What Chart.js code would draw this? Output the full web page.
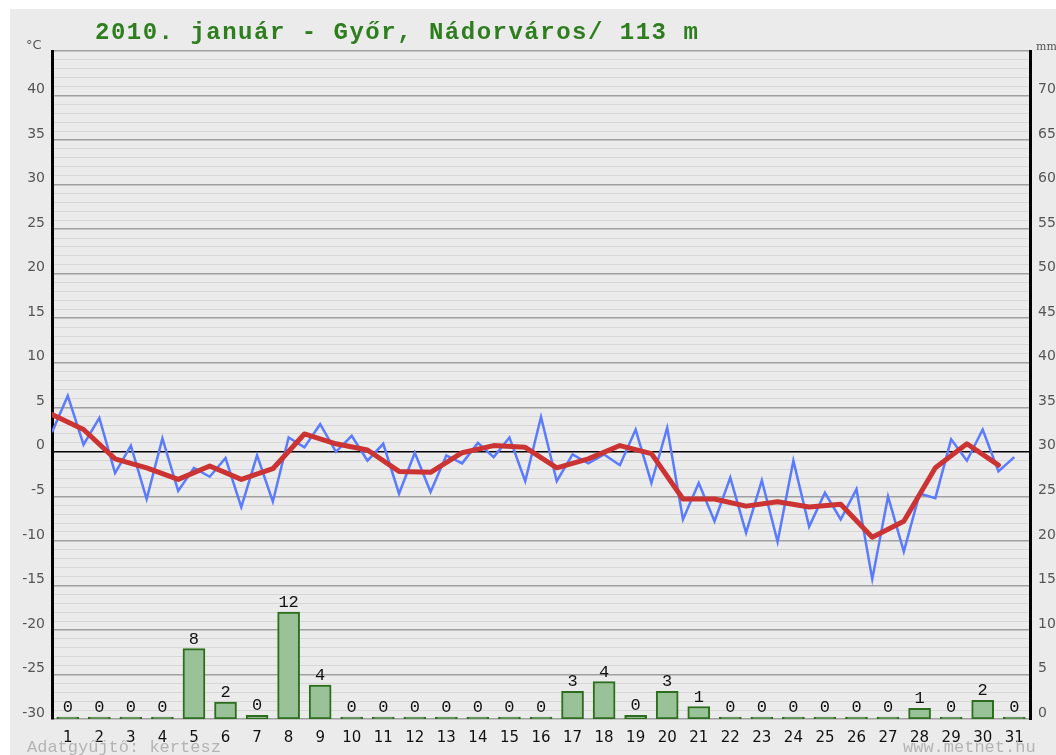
<!DOCTYPE html>
<html>
<head>
<meta charset="utf-8">
<title>2010. január - Győr, Nádorváros</title>
<script src="https://cdn.jsdelivr.net/npm/chart.js@4.4.0/dist/chart.umd.min.js"></script>
<style>
  html, body { margin: 0; padding: 0; background: #fff; }
  canvas { display: block; }
</style>
</head>
<body>
<canvas id="chart" width="1056" height="755"></canvas>
<script>
const titleText = "2010. január - Győr, Nádorváros/ 113 m";

const days = ["1","2","3","4","5","6","7","8","9","10","11","12","13","14","15","16",
  "17","18","19","20","21","22","23","24","25","26","27","28","29","30","31"];

// csapadék (mm) naponta + a kiírt felirat
const precip = [0, 0, 0, 0, 7.9, 1.9, 0.4, 12.0, 3.8, 0, 0, 0, 0, 0, 0, 0,
  3.1, 4.2, 0.4, 3.1, 1.4, 0, 0, 0, 0, 0, 0, 1.2, 0, 2.1, 0];
const precipLabels = ["0","0","0","0","8","2","0","12","4","0","0","0","0","0","0","0",
  "3","4","0","3","1","0","0","0","0","0","0","1","0","2","0"];

// hőmérséklet félnaponként (kék)
const tempHalfDay = [
  2.2, 6.3, 0.8, 3.8, -2.4, 0.7, -5.3, 1.5, -4.4, -1.8,
  -2.8, -0.7, -6.2, -0.4, -5.6, 1.6, 0.5, 3.1, 0.0, 1.8,
  -1.0, 0.9, -4.7, -0.1, -4.5, -0.4, -1.3, 1.0, -0.6, 1.6,
  -3.3, 3.9, -3.3, -0.3, -1.3, -0.3, -1.5, 2.5, -3.5, 2.7,
  -7.6, -3.5, -7.8, -2.9, -9.1, -3.2, -10.1, -1.0, -8.4, -4.6,
  -7.6, -4.2, -14.3, -5.0, -11.2, -4.7, -5.2, 1.4, -1.0, 2.5,
  -2.2, -0.6
];

// napi középhőmérséklet (piros)
const tempDaily = [4.2, 2.5, -0.8, -1.8, -3.1, -1.6, -3.1, -1.9, 2.0, 0.9, 0.2,
  -2.2, -2.3, -0.1, 0.7, 0.5, -1.8, -0.8, 0.7, -0.2, -5.3, -5.3, -6.1, -5.6,
  -6.2, -5.9, -9.6, -7.8, -1.8, 0.9, -1.5];

const bgPlugin = {
  id: "bg",
  beforeDraw(chart) {
    const ctx = chart.ctx;
    ctx.save();
    ctx.fillStyle = "#fff";
    ctx.fillRect(0, 0, chart.width, chart.height);
    ctx.fillStyle = "#ebebeb";
    ctx.fillRect(10, 9, chart.width - 10, chart.height - 9);
    ctx.restore();
  }
};

const textPlugin = {
  id: "texts",
  afterDatasetsDraw(chart) {
    const ctx = chart.ctx;
    const meta = chart.getDatasetMeta(0);
    ctx.save();
    ctx.fillStyle = "#111";
    ctx.font = "17px 'Liberation Mono', monospace";
    ctx.textAlign = "center";
    ctx.textBaseline = "alphabetic";
    meta.data.forEach((bar, i) => {
      ctx.fillText(precipLabels[i], bar.x, bar.y - 5);
    });
    ctx.restore();
  },
  afterDraw(chart) {
    const ctx = chart.ctx;
    ctx.save();
    ctx.textBaseline = "alphabetic";
    ctx.textAlign = "left";

    ctx.fillStyle = "#2e7d1f";
    ctx.font = "bold 24px 'Liberation Mono', monospace";
    ctx.letterSpacing = "1.5px";
    ctx.fillText(titleText, 95, 39);
    ctx.letterSpacing = "0px";

    ctx.fillStyle = "#555";
    ctx.font = "13px 'DejaVu Sans', sans-serif";
    ctx.fillText("°C", 26, 49);
    ctx.font = "11px 'DejaVu Serif', serif";
    ctx.fillText("mm", 1036, 50);

    ctx.fillStyle = "#b4b4b4";
    ctx.font = "17px 'Liberation Mono', monospace";
    ctx.fillText("Adatgyűjtő: kertész", 27, 752);
    ctx.fillText("www.metnet.hu", 903, 752);
    ctx.restore();
  }
};

new Chart(document.getElementById("chart"), {
  data: {
    datasets: [
      {
        type: "bar",
        data: precip.map((v, i) => ({ x: i + 0.5, y: v })),
        yAxisID: "y2",
        backgroundColor: "#99c299",
        borderColor: "#2d6e1e",
        borderWidth: 2,
        borderSkipped: false,
        barThickness: 22,
        minBarLength: 2,
        order: 3
      },
      {
        type: "line",
        data: tempHalfDay.map((v, i) => ({ x: i * 0.5, y: v })),
        yAxisID: "y",
        borderColor: "#5a7bff",
        borderWidth: 2.5,
        pointRadius: 0,
        tension: 0,
        order: 2
      },
      {
        type: "line",
        data: tempDaily.map((v, i) => ({ x: i, y: v })),
        yAxisID: "y",
        borderColor: "#cc3434",
        borderWidth: 5,
        borderJoinStyle: "round",
        borderCapStyle: "round",
        pointRadius: 0,
        tension: 0,
        order: 1
      }
    ]
  },
  options: {
    responsive: false,
    animation: false,
    layout: { padding: { top: 51, left: 0, right: 0, bottom: 0 } },
    plugins: { legend: { display: false }, tooltip: { enabled: false } },
    scales: {
      x: {
        type: "linear",
        min: 0,
        max: 31,
        offset: false,
        grid: { display: false, offset: false },
        border: { display: false },
        afterBuildTicks: ax => { ax.ticks = days.map((d, i) => ({ value: i + 0.5 })); },
        afterFit: ax => { ax.height = 36; },
        ticks: {
          autoSkip: false,
          maxRotation: 0,
          padding: 2,
          color: "#111",
          font: { family: "DejaVu Sans", size: 15 },
          callback: (v, i) => days[i]
        }
      },
      y: {
        position: "left",
        min: -30,
        max: 45,
        afterFit: ax => { ax.width = 52; },
        border: { display: true, color: "#000", width: 3 },
        grid: {
          drawTicks: false,
          color: c => c.tick.value === 0 ? "#000" : (c.tick.value % 5 === 0 ? "#a0a0a0" : "#d6d6d6"),
          lineWidth: c => c.tick.value % 5 === 0 ? 1.5 : 1
        },
        ticks: {
          stepSize: 1,
          maxTicksLimit: 100,
          autoSkip: false,
          padding: 7,
          labelOffset: -6,
          color: "#555",
          font: { family: "DejaVu Sans", size: 14 },
          callback: v => (v % 5 === 0 && v < 45) ? v : ""
        }
      },
      y2: {
        position: "right",
        min: 0,
        max: 75,
        afterFit: ax => { ax.width = 26; },
        border: { display: true, color: "#000", width: 3 },
        grid: { display: false, drawTicks: false },
        ticks: {
          stepSize: 5,
          autoSkip: false,
          padding: 8,
          labelOffset: -6,
          color: "#555",
          font: { family: "DejaVu Sans", size: 14 },
          callback: v => v < 75 ? v : ""
        }
      }
    }
  },
  plugins: [bgPlugin, textPlugin]
});
</script>
</body>
</html>
